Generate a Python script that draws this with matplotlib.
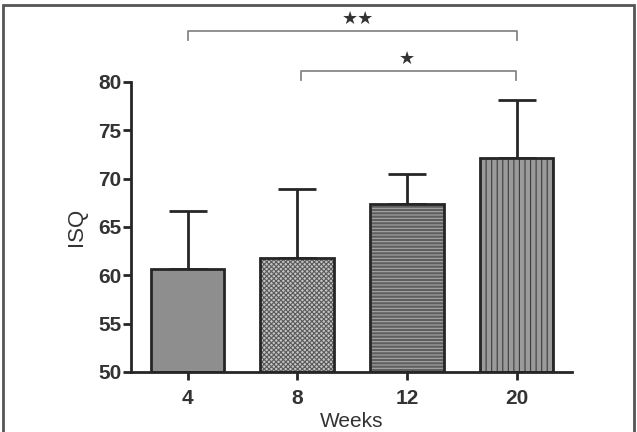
import matplotlib
matplotlib.use("Agg")
import matplotlib.pyplot as plt
from matplotlib.patches import Rectangle

weeks = ["4", "8", "12", "20"]
isq_mean = [60.7, 61.8, 67.4, 72.1]
isq_sd = [6.0, 7.1, 3.1, 6.0]
face_colors = ["#8e8e8e", "#c4c4c4", "#5e5e5e", "#9a9a9a"]
hatches = [None, "xxxxxxx", "-----", "|||"]
hatch_colors = ["#8e8e8e", "#5a5a5a", "#a8a8a8", "#3c3c3c"]

plt.rcParams["font.family"] = ["Liberation Sans", "DejaVu Sans"]
plt.rcParams["hatch.linewidth"] = 0.8

fig = plt.figure(figsize=(6.37, 4.32), dpi=100)
ax = fig.add_axes([0.2057, 0.1389, 0.6923, 0.6713])

x = list(range(len(weeks)))
dark = "#262626"

# hatched fills first, then a plain outline on top
for xi, m, fc, h, hc in zip(x, isq_mean, face_colors, hatches, hatch_colors):
    ax.bar(xi, m - 50, bottom=50, width=0.67, color=fc, hatch=h,
           edgecolor=hc, linewidth=0, zorder=2)
    ax.bar(xi, m - 50, bottom=50, width=0.67, fill=False,
           edgecolor=dark, linewidth=2.0, zorder=3)

ax.errorbar(x, isq_mean, yerr=[[0] * 4, isq_sd], fmt="none",
            ecolor=dark, elinewidth=2.0, capsize=13.7, capthick=2.0, zorder=1)

ax.set_ylim(50, 80)
ax.set_xlim(-0.515, 3.505)
ax.set_yticks([50, 55, 60, 65, 70, 75, 80])
ax.set_xticks(x)
ax.set_xticklabels(weeks)
for s in ["top", "right"]:
    ax.spines[s].set_visible(False)
for s in ["left", "bottom"]:
    ax.spines[s].set_linewidth(2.0)
    ax.spines[s].set_color(dark)
ax.tick_params(axis="both", direction="out", length=6, width=2.0,
               color=dark, labelsize=15, labelcolor="#333333")
for lab in ax.get_xticklabels() + ax.get_yticklabels():
    lab.set_fontweight("bold")
ax.tick_params(axis="y", pad=1)
ax.tick_params(axis="x", pad=6)

ax.set_ylabel("ISQ", fontsize=16, color="#333333", labelpad=8)
ax.set_xlabel("Weeks", fontsize=15, color="#333333", labelpad=3)

# significance brackets
br_color = "#888888"
ax.plot([0, 0, 3, 3], [84.3, 85.3, 85.3, 84.3], color=br_color, lw=1.3, clip_on=False)
ax.text(1.55, 86.5, "★★", ha="center", va="center", fontsize=13,
        color="#333333", family="DejaVu Sans")
ax.plot([1.03, 1.03, 2.99, 2.99], [80.2, 81.15, 81.15, 80.2], color=br_color, lw=1.3,
        clip_on=False)
ax.text(2.0, 82.4, "★", ha="center", va="center", fontsize=13,
        color="#333333", family="DejaVu Sans")

fig.patches.append(Rectangle((0.004, -0.05), 0.991, 1.038, transform=fig.transFigure,
                             fill=False, edgecolor="#555555", linewidth=2.0))

fig.savefig("out.png", dpi=100)
